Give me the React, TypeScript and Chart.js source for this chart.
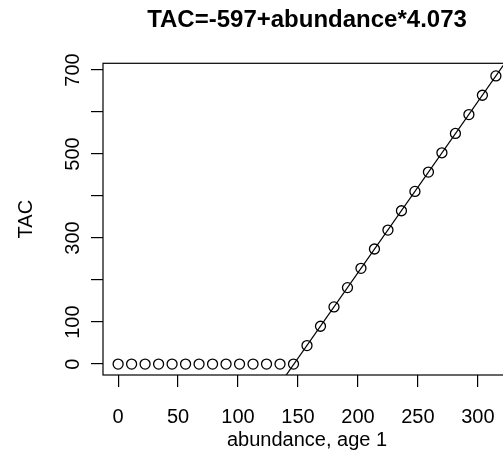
import React, { useEffect, useRef } from "react";
import { Chart, registerables } from "chart.js";

Chart.register(...registerables);

const TITLE = "TAC=-597+abundance*4.073";
const X_LABEL = "abundance, age 1";
const Y_LABEL = "TAC";

const abundance = [
  0, 11.25, 22.5, 33.75, 45, 56.25, 67.5, 78.75, 90, 101.25, 112.5, 123.75, 135, 146.25,
  157.5, 168.75, 180, 191.25, 202.5, 213.75, 225, 236.25, 247.5, 258.75, 270, 281.25,
  292.5, 303.75, 315,
];
const tac = [
  0, 0, 0, 0, 0, 0, 0, 0, 0, 0, 0, 0, 0, 0,
  44, 90, 136, 182, 228, 274, 319, 365, 411, 457, 503, 549, 594, 640, 686,
];

const INTERCEPT = -597;
const SLOPE = 4.073;

const xTicks = [0, 50, 100, 150, 200, 250, 300];
const yTicks = [0, 100, 200, 300, 400, 500, 600, 700];
const yTickLabels = ["0", "100", "", "300", "", "500", "", "700"];

const X_MIN = -12.6;
const X_MAX = 327.6;
const Y_MIN = -26;
const Y_MAX = 716;

const FONT = "'Liberation Sans', Arial, Helvetica, sans-serif";

const boxPlugin = {
  id: "boxPlugin",
  afterDraw(chart: any) {
    const { ctx, chartArea } = chart;
    ctx.save();
    ctx.strokeStyle = "#000";
    ctx.lineWidth = 1.2;
    ctx.strokeRect(chartArea.left, chartArea.top, chartArea.right - chartArea.left, chartArea.bottom - chartArea.top);
    ctx.restore();
  },
};

export default function App() {
  const ref = useRef<HTMLCanvasElement | null>(null);

  useEffect(() => {
    if (!ref.current) return;
    const lineX = [X_MIN, X_MAX];
    const chart = new Chart(ref.current, {
      type: "scatter",
      data: {
        datasets: [
          {
            data: abundance.map((x, i) => ({ x, y: tac[i] })),
            showLine: false,
            pointRadius: 5,
            pointBorderWidth: 1.3,
            pointBorderColor: "#000",
            pointBackgroundColor: "rgba(0,0,0,0)",
          },
          {
            data: lineX.map((x) => ({ x, y: INTERCEPT + SLOPE * x })),
            showLine: true,
            pointRadius: 0,
            borderColor: "#000",
            borderWidth: 1.2,
            fill: false,
          },
        ],
      },
      options: {
        responsive: false,
        animation: false,
        devicePixelRatio: 1,
        layout: { padding: { left: 0, right: 101, top: 0, bottom: 0 } },
        plugins: {
          legend: { display: false },
          tooltip: { enabled: false },
          title: {
            display: true,
            text: TITLE,
            fullSize: false,
            color: "#000",
            font: { family: FONT, size: 24, weight: "bold", lineHeight: 1.2 },
            padding: { top: 5.6, bottom: 28.9 },
          },
        },
        scales: {
          x: {
            type: "linear",
            min: X_MIN,
            max: X_MAX,
            afterFit: (s: any) => {
              s.height = 98;
            },
            afterBuildTicks: (s: any) => {
              s.ticks = xTicks.map((v) => ({ value: v }));
            },
            grid: {
              display: true,
              drawOnChartArea: false,
              drawTicks: true,
              tickLength: 12,
              color: "#000",
              lineWidth: 1.2,
            },
            border: { display: false },
            ticks: {
              color: "#000",
              font: { family: FONT, size: 20 },
              padding: 18,
              maxRotation: 0,
              minRotation: 0,
              callback: (v: any) => String(v),
            },
            title: {
              display: true,
              text: X_LABEL,
              color: "#000",
              font: { family: FONT, size: 20, lineHeight: 1.2 },
              padding: { top: 0, bottom: 21 },
            },
          },
          y: {
            type: "linear",
            min: Y_MIN,
            max: Y_MAX,
            afterFit: (s: any) => {
              s.width = 103;
            },
            afterBuildTicks: (s: any) => {
              s.ticks = yTicks.map((v) => ({ value: v }));
            },
            grid: {
              display: true,
              drawOnChartArea: false,
              drawTicks: true,
              tickLength: 12,
              color: "#000",
              lineWidth: 1.2,
            },
            border: { display: false },
            ticks: {
              color: "#000",
              font: { family: FONT, size: 20 },
              padding: 1.3,
              crossAlign: "center",
              minRotation: 90,
              maxRotation: 90,
              autoSkip: false,
              callback: (v: any) => {
                const i = yTicks.indexOf(Number(v));
                return i >= 0 ? yTickLabels[i] : "";
              },
            },
            title: {
              display: true,
              text: Y_LABEL,
              color: "#000",
              font: { family: FONT, size: 20, lineHeight: 1.2 },
              padding: { top: 14, bottom: 0 },
            },
          },
        },
      },
      plugins: [boxPlugin],
    } as any);
    return () => chart.destroy();
  }, []);

  return (
    <div
      style={{
        position: "absolute",
        left: 0,
        top: 0,
        width: 503,
        height: 473,
        overflow: "hidden",
        background: "#fff",
      }}
    >
      <canvas ref={ref} width={612} height={473} style={{ width: 612, height: 473, display: "block" }} />
    </div>
  );
}
